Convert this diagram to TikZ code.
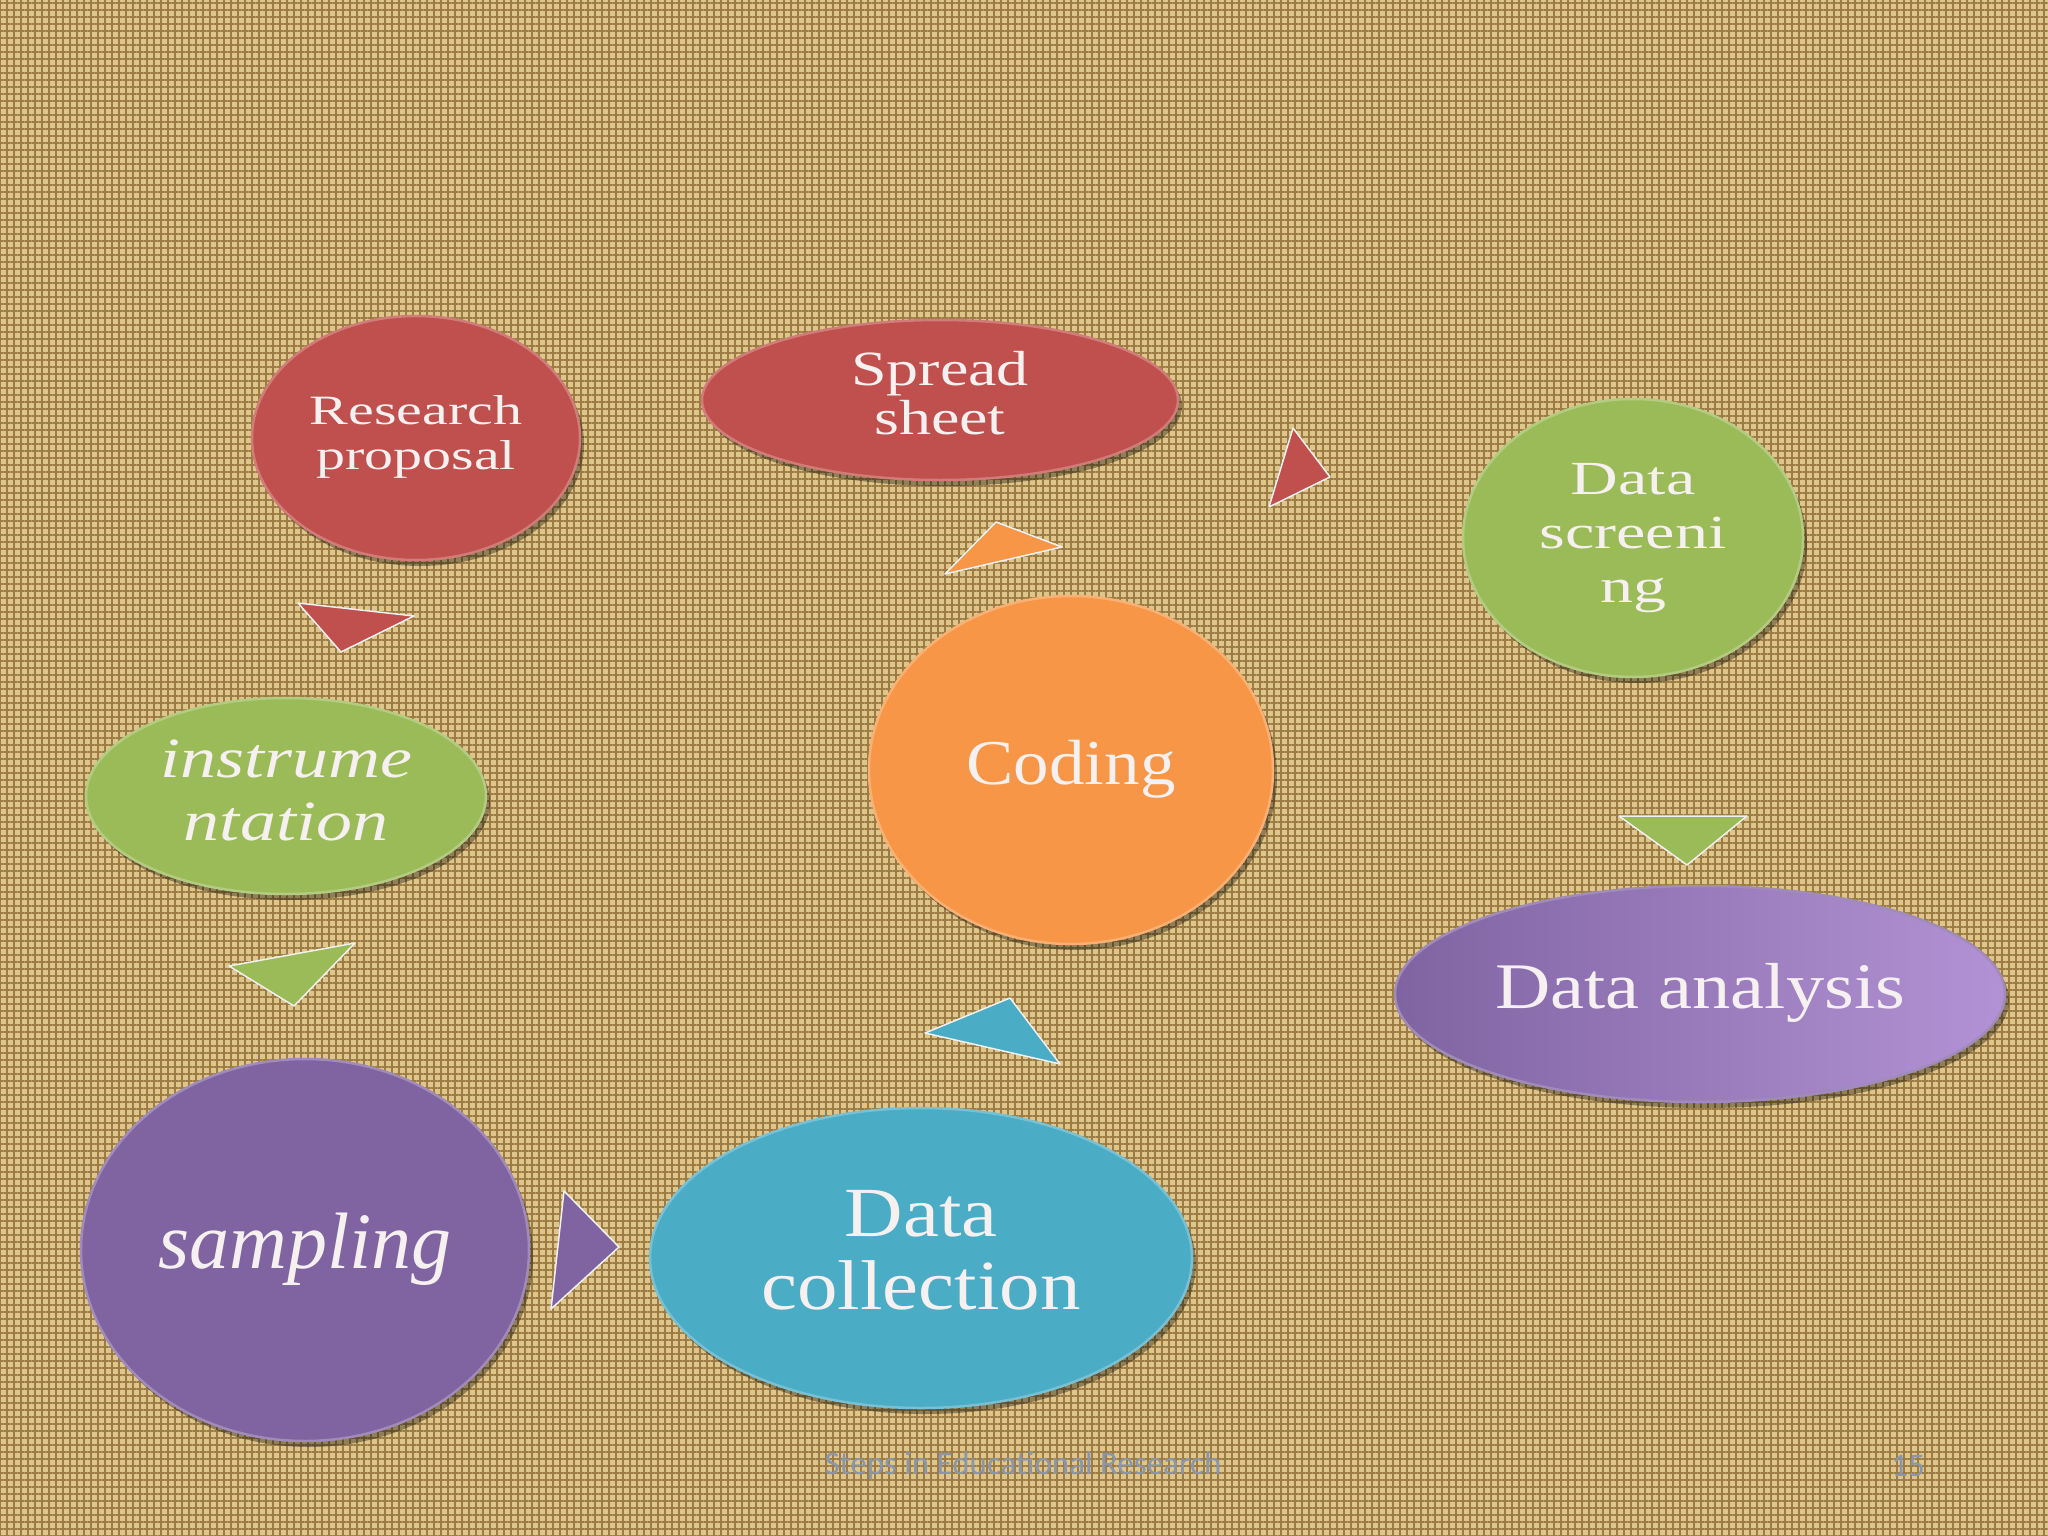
\documentclass[tikz,border=0pt]{standalone}
\usepackage{fontspec}
\setmainfont{Liberation Serif}
\newfontfamily\footfont{Carlito}
\usetikzlibrary{shapes.geometric,shadows,patterns.meta}
\definecolor{bgbase}{RGB}{222,197,138}
\definecolor{bgdark}{RGB}{156,124,68}
\definecolor{cred}{RGB}{192,80,77}
\definecolor{cgreen}{RGB}{155,187,89}
\definecolor{cpurple}{RGB}{128,100,162}
\definecolor{cpurplelight}{RGB}{178,146,212}
\definecolor{cblue}{RGB}{75,172,198}
\definecolor{corange}{RGB}{247,150,70}
\definecolor{txt}{RGB}{246,240,240}
\definecolor{foot}{RGB}{138,150,172}
\newcommand\lbl[4]{\scalebox{1}[#1]{\fontsize{#2}{#3}\selectfont\begin{tabular}{@{}c@{}}#4\end{tabular}}}
\tikzset{
  blob/.style={ellipse, inner sep=0pt, text=txt, line width=2.5pt,
    drop shadow={shadow xshift=4pt, shadow yshift=-6pt, opacity=0.35, fill=black}},
  tri/.style={line width=1.5pt, line join=round, draw=white!88!gray},
  foottext/.style={text=foot, font=\footfont\fontsize{33}{40}\selectfont, inner sep=0pt}
}
\begin{document}
\begin{tikzpicture}[x=1pt,y=-1pt]
\useasboundingbox (0,0) rectangle (2048,1536);
\fill[bgbase] (0,0) rectangle (2048,1536);
\fill[pattern={Lines[angle=0,distance=7pt,line width=2pt]}, pattern color=bgdark] (0,0) rectangle (2048,1536);
\fill[pattern={Lines[angle=90,distance=7pt,line width=2pt]}, pattern color=bgdark] (0,0) rectangle (2048,1536);

% ellipses
\node[blob, fill=cred, draw=cred!75!white, minimum width=328pt, minimum height=244pt] (rp) at (416,438)
  {\lbl{0.72}{58}{62.5}{Research\\proposal}};
\node[blob, fill=cred, draw=cred!75!white, minimum width=476pt, minimum height=160pt] (ss) at (940,400)
  {\lbl{0.77}{64}{63.6}{Spread\\sheet}};
\node[blob, fill=cgreen, draw=cgreen!75!white, minimum width=340pt, minimum height=278pt] (ds) at (1633,538)
  {\lbl{0.72}{66}{75}{Data\\screeni\\ng}};
\node[blob, fill=cgreen, draw=cgreen!75!white, minimum width=400pt, minimum height=196pt] (in) at (286,796)
  {\lbl{0.79}{72}{80}{\itshape instrume\\\itshape ntation}};
\node[blob, fill=corange, draw=corange!75!white, minimum width=404pt, minimum height=348pt] (co) at (1071,770)
  {\lbl{0.9}{71}{82}{Coding}};
\node[blob, left color=cpurple, right color=cpurplelight, draw=cpurple!75!white, minimum width=610pt, minimum height=216pt] (da) at (1700,994)
  {\lbl{0.85}{76.5}{88}{Data analysis}};
\node[blob, fill=cpurple, draw=cpurple!75!white, minimum width=448pt, minimum height=382pt] (sa) at (305,1250)
  {\lbl{1.0}{80}{92}{\itshape sampling}};
\node[blob, fill=cblue, draw=cblue!75!white, minimum width=542pt, minimum height=300pt] (dc) at (921,1258)
  {\lbl{0.87}{81}{84}{Data\\collection}};

% triangles
\filldraw[tri, fill=cred] (298,603) -- (414,616) -- (341,652) -- cycle;
\filldraw[tri, fill=cgreen] (229,966) -- (355,943) -- (294,1006) -- cycle;
\filldraw[tri, fill=cpurple] (564,1191) -- (619,1247) -- (551,1309) -- cycle;
\filldraw[tri, fill=cblue] (925,1033) -- (1010,998) -- (1060,1064) -- cycle;
\filldraw[tri, fill=corange] (945,574) -- (996,522) -- (1062,547) -- cycle;
\filldraw[tri, fill=cred] (1269,507) -- (1293,428) -- (1330,477) -- cycle;
\filldraw[tri, fill=cgreen] (1619,816) -- (1747,816) -- (1687,865) -- cycle;

% footer
\node[foottext] (ft) at (1023,1466) {Steps in Educational Research};
\node[foottext] (pn) at (1908,1466) {15};
\end{tikzpicture}
\end{document}
